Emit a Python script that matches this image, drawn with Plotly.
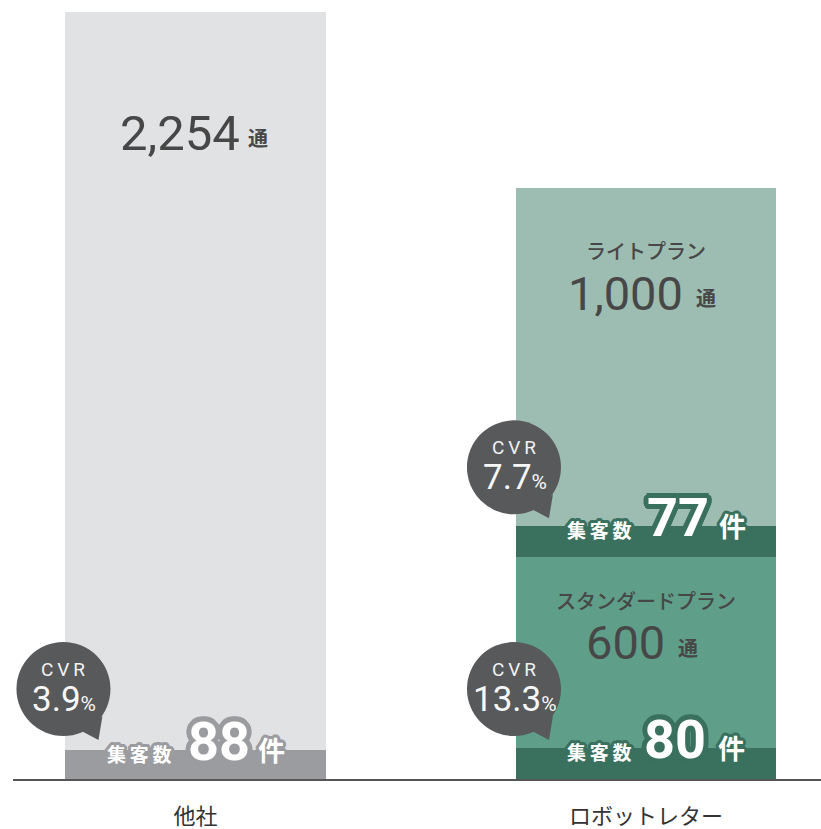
import math
import plotly.graph_objects as go

# ---------------- data ----------------
categories = ["他社", "ロボットレター"]
other_total = 2254
other_leads = 88
other_cvr = 3.9
plan_names = ["スタンダードプラン", "ライトプラン"]
plan_values = [600, 1000]
plan_leads = [80, 77]
plan_cvr = [13.3, 7.7]

# ---------------- style ----------------
W, H = 821, 829
M_L, M_R, M_T, M_B = 13, 0, 12, 50
Y_MAX = 2076
X_RANGE = [-0.405, 1.3885]
BAR_W = 0.579
BAND_OTHER = 79      # decorative band height (data units)
BAND_ROBOT = 85

C_OTHER = "#e1e2e4"
C_OTHER_BAND = "#9b9c9f"
C_LIGHT = "#9dbcb2"
C_STD = "#5f9f89"
C_ROBOT_BAND = "#3a705e"
C_BUBBLE = "#58595b"
C_TEXT = "#474747"
C_AXIS = "#555555"

NUM_FONT = "Roboto, sans-serif"
JP_FONT = "Noto Sans CJK JP, sans-serif"

PLOT_H = H - M_T - M_B
PX_PER_UNIT = PLOT_H / Y_MAX
BASE_PX = H - M_B


def ypx(py):
    """convert a pixel row measured on the page to a y data value"""
    return (BASE_PX - py) / PX_PER_UNIT


def outline(color, r=3.0, n=16):
    parts = []
    for rr in (r, r * 0.55):
        for k in range(n):
            a = 2 * math.pi * k / n
            parts.append(f"{rr*math.cos(a):.1f}px {rr*math.sin(a):.1f}px 0 {color}")
    return ", ".join(parts)


fig = go.Figure()

fig.add_trace(go.Bar(x=[0], y=[other_total], base=[0], width=BAR_W,
                     marker=dict(color=C_OTHER, line=dict(width=0)), hoverinfo="skip"))
fig.add_trace(go.Bar(x=[1], y=[plan_values[0]], base=[0], width=BAR_W,
                     marker=dict(color=C_STD, line=dict(width=0)), hoverinfo="skip"))
fig.add_trace(go.Bar(x=[1], y=[plan_values[1]], base=[plan_values[0]], width=BAR_W,
                     marker=dict(color=C_LIGHT, line=dict(width=0)), hoverinfo="skip"))
fig.add_trace(go.Bar(x=[0, 1, 1], y=[BAND_OTHER, BAND_ROBOT, BAND_ROBOT],
                     base=[0, 0, plan_values[0]], width=BAR_W,
                     marker=dict(color=[C_OTHER_BAND, C_ROBOT_BAND, C_ROBOT_BAND], line=dict(width=0)),
                     hoverinfo="skip"))

annotations = []
shapes = []


def txt(x, y, text, size, color=C_TEXT, family=NUM_FONT, weight="normal", xshift=0, yshift=0,
        shadow=None):
    f = dict(size=size, color=color, family=family, weight=weight)
    if shadow:
        f["shadow"] = shadow
    annotations.append(dict(x=x, y=y, xref="x", yref="y", text=text, showarrow=False,
                            xshift=xshift, yshift=yshift, font=f,
                            xanchor="center", yanchor="middle", borderpad=0))


# totals
txt(0, ypx(133), f"{other_total:,}", 49, xshift=-15)
txt(0, ypx(137), "通", 20, family=JP_FONT, weight="bold", xshift=63)

txt(1, ypx(250), plan_names[1], 20, family=JP_FONT, weight=500)
txt(1, ypx(293), f"{plan_values[1]:,}", 47, xshift=-20)
txt(1, ypx(297), "通", 20, family=JP_FONT, weight="bold", xshift=60)

txt(1, ypx(600), plan_names[0], 20, family=JP_FONT, weight=500)
txt(1, ypx(642), f"{plan_values[0]:,}", 47, xshift=-20)
txt(1, ypx(647), "通", 20, family=JP_FONT, weight="bold", xshift=42)


def leads(x, band_top, n, band_color, dx):
    sh_s = outline(band_color, 3)
    sh_b = outline(band_color, 5)
    txt(x, band_top, "集\u2009客\u2009数", 19, color="white", family=JP_FONT, weight="bold",
        xshift=dx[0], yshift=-4, shadow=sh_s)
    txt(x, band_top, str(n), 54, color="white", family=NUM_FONT, weight="bold",
        xshift=dx[1], yshift=8, shadow=sh_b)
    txt(x, band_top, "件", 27, color="white", family=JP_FONT, weight="bold",
        xshift=dx[2], yshift=0, shadow=sh_s)


leads(0, BAND_OTHER, other_leads, C_OTHER_BAND, (-56, 24, 76))
leads(1, BAND_ROBOT, plan_leads[0], C_ROBOT_BAND, (-46, 29, 86))
leads(1, plan_values[0] + BAND_ROBOT, plan_leads[1], C_ROBOT_BAND, (-46, 32, 87))

R = 47
CX, CY = -132, 90


def bubble(x, ybase, cvr):
    shapes.append(dict(type="circle", xref="x", yref="y", xsizemode="pixel", ysizemode="pixel",
                       xanchor=x, yanchor=ybase,
                       x0=CX - R, x1=CX + R, y0=CY - R, y1=CY + R,
                       fillcolor=C_BUBBLE, line=dict(width=0), layer="above"))
    pts = [(18, -42), (35, -51), (39, -27)]
    path = "M " + " L ".join(f"{CX+px},{CY+py}" for px, py in pts) + " Z"
    shapes.append(dict(type="path", xref="x", yref="y", xsizemode="pixel", ysizemode="pixel",
                       xanchor=x, yanchor=ybase, path=path,
                       fillcolor=C_BUBBLE, line=dict(width=0), layer="above"))
    annotations.append(dict(x=x, y=ybase, xref="x", yref="y", showarrow=False,
                            xshift=CX, yshift=CY + 20, text="C\u2009V\u2009R",
                            font=dict(size=19, color="#f2f2f2", family=NUM_FONT)))
    annotations.append(dict(x=x, y=ybase, xref="x", yref="y", showarrow=False,
                            xshift=CX + 1, yshift=CY - 10,
                            text=f"{cvr}<span style='font-size:21px'>%</span>",
                            font=dict(size=35, color="#f7f7f7", family=NUM_FONT)))


bubble(0, 0, other_cvr)
bubble(1, 0, plan_cvr[0])
bubble(1, plan_values[0], plan_cvr[1])

fig.update_layout(
    width=W, height=H,
    margin=dict(l=M_L, r=M_R, t=M_T, b=M_B, pad=0),
    paper_bgcolor="white", plot_bgcolor="white",
    barmode="overlay", showlegend=False, bargap=0,
    annotations=annotations, shapes=shapes,
    xaxis=dict(range=X_RANGE, tickvals=[0, 1], ticktext=categories, showgrid=False,
               zeroline=False, showline=True, linecolor=C_AXIS, linewidth=2,
               ticks="", ticklabelstandoff=17, automargin=False,
               tickfont=dict(family=JP_FONT, size=22, color="#333333"), fixedrange=True),
    yaxis=dict(range=[0, Y_MAX], visible=False, showgrid=False, zeroline=False,
               fixedrange=True, automargin=False),
)

fig.write_html("out.html", config={"displayModeBar": False},
               post_script="document.body.style.margin='0';document.body.style.padding='0';")
